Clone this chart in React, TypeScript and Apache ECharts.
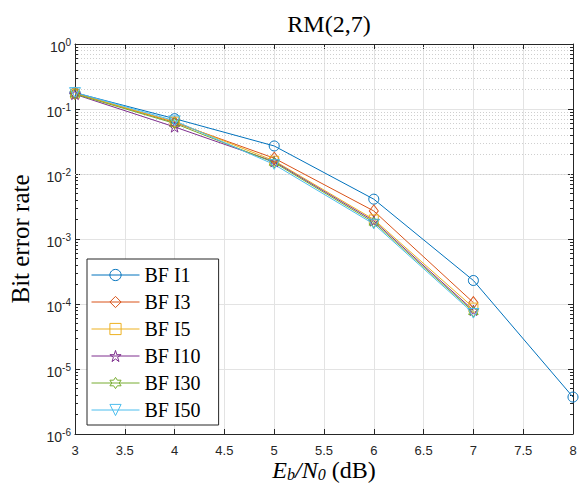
import React, { useEffect, useRef } from "react";
import * as echarts from "echarts";

const snr = [3, 4, 5, 6, 7, 8];
const seriesNames = ["BF I1", "BF I3", "BF I5", "BF I10", "BF I30", "BF I50"];
const berI1 = [0.178, 0.071, 0.027, 0.0041, 0.00023, 3.7e-6];
const berI3 = [0.175, 0.062, 0.0175, 0.0027, 0.000105];
const berI5 = [0.172, 0.064, 0.016, 0.002, 0.000088];
const berI10 = [0.168, 0.053, 0.0155, 0.0019, 0.00008];
const berI30 = [0.17, 0.06, 0.015, 0.0018, 0.000076];
const berI50 = [0.18, 0.066, 0.014, 0.0017, 0.000072];

const colors = ["#0072BD", "#D95319", "#EDB120", "#7E2F8E", "#77AC30", "#4DBEEE"];
const PENTA =
  "path://M0 -1 L0.2245 -0.309 L0.951 -0.309 L0.363 0.118 L0.588 0.809 L0 0.382 L-0.588 0.809 L-0.363 0.118 L-0.951 -0.309 L-0.2245 -0.309 Z";
const HEXA =
  "path://M0 -1 L0.2887 -0.5 L0.866 -0.5 L0.5774 0 L0.866 0.5 L0.2887 0.5 L0 1 L-0.2887 0.5 L-0.866 0.5 L-0.5774 0 L-0.866 -0.5 L-0.2887 -0.5 Z";
const TRIDOWN = "path://M0 1 L-1 -0.75 L1 -0.75 Z";
const symbols = ["circle", "diamond", "rect", PENTA, HEXA, TRIDOWN];
const symbolSizes: any[] = [10, [9, 12], 9, 11, 11, 11];

const SANS = "Liberation Sans, Arial, Helvetica, sans-serif";
const SERIF = "Liberation Serif, DejaVu Serif, Times New Roman, serif";
const AXC = "#262626";

export default function App() {
  const ref = useRef<HTMLDivElement>(null);
  useEffect(() => {
    if (!ref.current) return;
    const chart = echarts.init(ref.current, null, { renderer: "svg" });
    const allData = [berI1, berI3, berI5, berI10, berI30, berI50];

    const minorVals: number[] = [];
    for (let e = -6; e < 0; e++) {
      for (let k = 2; k <= 9; k++) minorVals.push(k * Math.pow(10, e));
    }
    const minorGrid = minorVals.map((v) => ({ yAxis: v }));
    const minorTicks: any[] = [];
    minorVals.forEach((v) => {
      minorTicks.push([{ coord: [3, v] }, { coord: [3.03, v] }]);
      minorTicks.push([{ coord: [7.97, v] }, { coord: [8, v] }]);
    });

    const dataSeries = allData.map((arr, i) => ({
      name: seriesNames[i],
      type: "line",
      data: arr.map((v, j) => [snr[j], v]),
      symbol: symbols[i],
      symbolSize: symbolSizes[i],
      symbolKeepAspect: true,
      showAllSymbol: true,
      color: colors[i],
      lineStyle: { color: colors[i], width: 1 },
      itemStyle: { color: "rgba(255,255,255,0)", borderColor: colors[i], borderWidth: 1 },
      z: 5,
    }));

    const option: any = {
      animation: false,
      title: {
        text: "RM(2,7)",
        left: 324,
        textAlign: "center",
        top: 7,
        textStyle: { fontFamily: SERIF, fontSize: 24, fontWeight: "normal", color: "#000" },
      },
      grid: { left: 75, right: 6, top: 44, bottom: 49, containLabel: false, outerBoundsMode: "none" },
      legend: {
        orient: "vertical",
        left: 87,
        top: 259,
        data: seriesNames,
        itemWidth: 48,
        itemHeight: 14,
        itemGap: 7,
        padding: [6, 18, 5, 4],
        borderColor: AXC,
        borderWidth: 1,
        backgroundColor: "#fff",
        lineStyle: { width: 1 },
        itemStyle: { borderWidth: 1 },
        textStyle: { fontFamily: SERIF, fontSize: 20, color: "#000" },
        z: 10,
      },
      xAxis: [
        {
          type: "value",
          min: 3,
          max: 8,
          interval: 0.5,
          name: "{i|E}{s|b}{i|/N}{s|0}{n| (dB)}",
          nameLocation: "middle",
          nameGap: 24,
          nameMoveOverlap: false,
          nameTextStyle: {
            verticalAlign: "top",
            rich: {
              i: { fontFamily: SERIF, fontStyle: "italic", fontSize: 24, color: "#000" },
              s: { fontFamily: SERIF, fontStyle: "italic", fontSize: 16, color: "#000", padding: [8, 0, 0, 0] },
              n: { fontFamily: SERIF, fontSize: 24, color: "#000" },
            },
          },
          axisLine: { show: true, lineStyle: { color: AXC, width: 1 } },
          axisTick: { show: true, inside: true, length: 5, lineStyle: { color: AXC } },
          axisLabel: { fontFamily: SANS, fontSize: 13, color: AXC, margin: 10 },
          splitLine: { show: true, lineStyle: { color: "#e3e3e3", width: 1 } },
        },
        {
          type: "value",
          position: "top",
          min: 3,
          max: 8,
          interval: 0.5,
          axisLine: { show: true, onZero: false, lineStyle: { color: AXC, width: 1 } },
          axisTick: { show: true, inside: true, length: 5, lineStyle: { color: AXC } },
          axisLabel: { show: false },
          splitLine: { show: false },
        },
      ],
      yAxis: [
        {
          type: "log",
          logBase: 10,
          min: 1e-6,
          max: 1,
          splitNumber: 6,
          name: "Bit error rate",
          nameLocation: "middle",
          nameGap: 42,
          nameTextStyle: { fontFamily: SERIF, fontSize: 25, color: "#000" },
          axisLine: { show: true, lineStyle: { color: AXC, width: 1 } },
          axisTick: { show: true, inside: true, length: 5, lineStyle: { color: AXC } },
          axisLabel: {
            margin: 4,
            formatter: (v: number) => {
              const e = Math.round(Math.log10(v));
              return `{b|10}{s|${e}}`;
            },
            rich: {
              b: { fontFamily: SANS, fontSize: 14, color: AXC, padding: [6, 0, 0, 0] },
              s: { fontFamily: SANS, fontSize: 10, color: AXC, padding: [0, 0, 4, 0] },
            },
          },
          splitLine: { show: true, lineStyle: { color: "#e3e3e3", width: 1 } },
        },
        {
          type: "log",
          logBase: 10,
          min: 1e-6,
          max: 1,
          splitNumber: 6,
          position: "right",
          axisLine: { show: true, onZero: false, lineStyle: { color: AXC, width: 1 } },
          axisTick: { show: true, inside: true, length: 5, lineStyle: { color: AXC } },
          axisLabel: { show: false },
          splitLine: { show: false },
        },
      ],
      series: [
        {
          type: "line",
          data: [],
          silent: true,
          z: 1,
          markLine: {
            silent: true,
            symbol: "none",
            label: { show: false },
            lineStyle: { color: "#cfcfcf", width: 1, type: [1, 2] },
            data: minorGrid,
          },
        },
        {
          type: "line",
          data: [],
          silent: true,
          z: 2,
          markLine: {
            silent: true,
            symbol: "none",
            label: { show: false },
            lineStyle: { color: AXC, width: 1, type: "solid" },
            data: minorTicks,
          },
        },
        ...dataSeries,
      ],
    };
    chart.setOption(option);
    return () => chart.dispose();
  }, []);
  return (
    <div
      ref={ref}
      style={{ position: "fixed", left: 0, top: 0, width: 579, height: 483, background: "#fff" }}
    />
  );
}
